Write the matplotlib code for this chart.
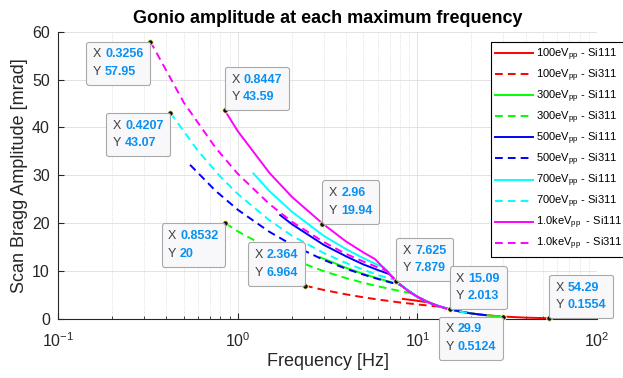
import matplotlib
matplotlib.use('Agg')
import matplotlib.pyplot as plt
from matplotlib.offsetbox import TextArea, HPacker, VPacker, AnnotationBbox

plt.rcParams['font.family'] = ['Liberation Sans', 'DejaVu Sans']
plt.rcParams['mathtext.fontset'] = 'custom'
plt.rcParams['mathtext.rm'] = 'Liberation Sans'
plt.rcParams['mathtext.default'] = 'regular'

# --- data (frequency in Hz, amplitude in mrad) ---
f_100_111 = [8.3, 10.0, 11.5, 14, 17, 22, 29.9, 40, 54.29]
a_100_111 = [4.2, 3.8, 3.46, 2.34, 1.585, 0.946, 0.5124, 0.286, 0.1554]
f_100_311 = [2.364, 3.0, 4.0, 5.0, 6.0, 8.0, 10.0, 12.0, 13.4]
a_100_311 = [6.964, 6.07, 5.15, 4.53, 4.08, 3.45, 3.04, 2.74, 2.55]

f_300_111 = [2.87, 4.0, 5.0, 6.0, 7.0, 7.95, 10, 13, 17, 22, 26, 29.9]
a_300_111 = [12.9, 10.7, 9.42, 8.5, 7.79, 7.25, 4.58, 2.71, 1.585, 0.946, 0.678, 0.5124]
f_300_311 = [0.8532, 1.0, 1.5, 2.0, 3.0, 4.0, 5.0, 6.0, 7.5, 9.2, 11, 13]
a_300_311 = [20.0, 18.3, 14.7, 12.5, 10.0, 8.55, 7.56, 6.84, 6.05, 5.41, 3.79, 2.71]

f_500_111 = [1.72, 2.0, 3.0, 4.0, 5.0, 6.0, 7.0, 8, 10, 12, 15, 19.5, 24]
a_500_111 = [21.7, 19.8, 15.5, 13.1, 11.4, 10.25, 9.35, 7.16, 4.58, 3.18, 2.04, 1.2, 0.795]
f_500_311 = [0.5417, 0.75, 1.0, 1.5, 2.0, 3.0, 4.0, 5.0, 6.0, 7.0, 8.0, 10, 12]
a_500_311 = [32.2, 26.8, 22.8, 18.2, 15.5, 12.35, 10.5, 9.27, 8.38, 7.68, 7.16, 4.58, 3.18]

f_700_111 = [1.22, 1.5, 2.0, 3.0, 4.0, 5.0, 6.0, 6.5, 8, 10, 12, 15]
a_700_111 = [30.4, 26.7, 22.4, 17.4, 14.6, 12.7, 11.3, 10.8, 7.16, 4.58, 3.18, 2.04]
f_700_311 = [0.4207, 0.6, 0.8, 1.0, 1.5, 2.0, 3.0, 4.0, 5.0, 6.0, 7.5, 9, 11, 13, 15, 17, 19.5]
a_700_311 = [43.07, 35.1, 29.7, 26.1, 20.6, 17.4, 13.8, 11.7, 10.3, 9.2, 8.14, 5.65, 3.79, 2.71, 2.04, 1.585, 1.204]

f_1k_111 = [0.8447, 1.0, 1.5, 2.0, 2.96, 4.0, 5.0, 5.81, 7.625, 9, 11, 13, 15.09]
a_1k_111 = [43.59, 39.2, 30.5, 25.5, 19.94, 16.2, 13.9, 12.5, 7.879, 5.65, 3.79, 2.71, 2.013]
f_1k_311 = [0.3256, 0.5, 0.75, 1.0, 1.5, 2.0, 3.0, 4.0, 5.0, 6.0, 6.74, 7.625]
a_1k_311 = [57.95, 45.2, 35.8, 30.3, 24.0, 20.3, 16.1, 13.6, 12.0, 10.8, 10.1, 7.879]

labels = ['100eV$_{pp}$ - Si111', '100eV$_{pp}$ - Si311',
          '300eV$_{pp}$ - Si111', '300eV$_{pp}$ - Si311',
          '500eV$_{pp}$ - Si111', '500eV$_{pp}$ - Si311',
          '700eV$_{pp}$ - Si111', '700eV$_{pp}$ - Si311',
          '1.0keV$_{pp}$  - Si111', '1.0keV$_{pp}$  - Si311']

# data tips
tip_x = [0.3256, 0.4207, 0.8447, 0.8532, 2.96, 2.364, 7.625, 15.09, 29.9, 54.29]
tip_y = [57.95, 43.07, 43.59, 20, 19.94, 6.964, 7.879, 2.013, 0.5124, 0.1554]
tip_corner = [(1, 1), (1, 1), (0, 0), (1, 1), (0, 0), (1, 0), (0, 0), (0, 0), (1, 1), (0, 0)]

series = [(f_100_111, a_100_111), (f_100_311, a_100_311),
          (f_300_111, a_300_111), (f_300_311, a_300_311),
          (f_500_111, a_500_111), (f_500_311, a_500_311),
          (f_700_111, a_700_111), (f_700_311, a_700_311),
          (f_1k_111, a_1k_111), (f_1k_311, a_1k_311)]
colors = ['#FF0000', '#FF0000', '#00FF00', '#00FF00', '#0000FF', '#0000FF',
          '#00FFFF', '#00FFFF', '#FF00FF', '#FF00FF']

fig = plt.figure(figsize=(6.23, 3.78), dpi=100)
ax = fig.add_axes([58.3 / 623, 59 / 378, 538.7 / 623, 287.3 / 378])

for i, (f, a) in enumerate(series):
    if i % 2 == 0:
        ax.plot(f, a, color=colors[i], lw=1.4, label=labels[i])
    else:
        ax.plot(f, a, color=colors[i], lw=1.4, ls=(0, (4, 2.6)), label=labels[i])

ax.set_xscale('log')
ax.set_xlim(0.1, 100)
ax.set_ylim(0, 60)
ax.set_yticks(range(0, 61, 10))
ax.grid(True, which='major', color='#DEDEDE', lw=0.6)
ax.grid(True, which='minor', axis='x', color='#D6D6D6', ls=':', lw=0.6)
ax.set_axisbelow(True)
for s in ['top', 'right']:
    ax.spines[s].set_visible(False)
for s in ['left', 'bottom']:
    ax.spines[s].set_color('#262626')
    ax.spines[s].set_linewidth(0.8)
ax.tick_params(which='both', direction='in', top=False, right=False,
               colors='#262626', labelsize=11.5)
ax.tick_params(which='major', length=4)
ax.tick_params(which='minor', length=2)
ax.tick_params(axis='x', which='both', pad=9)
ax.tick_params(axis='y', pad=6)

ax.set_xlabel('Frequency [Hz]', fontsize=13, color='#262626', labelpad=2)
ax.set_ylabel('Scan Bragg Amplitude [mrad]', fontsize=13, color='#262626', labelpad=3)
ax.set_title('Gonio amplitude at each maximum frequency', fontsize=13,
             fontweight='bold', pad=6)

leg = ax.legend(loc='upper left', bbox_to_anchor=(491 / 623, 1 - 42 / 378),
                bbox_transform=fig.transFigure, fontsize=8, handlelength=3.4,
                handletextpad=0.25, labelspacing=0.42, borderpad=0.4,
                borderaxespad=0, fancybox=False, edgecolor='k', framealpha=1)
leg.get_frame().set_linewidth(0.8)
leg.set_zorder(5)

# data tip markers and boxes
ax.plot(tip_x, tip_y, 'o', ms=4, mfc='#111111', mec='#FFFFA0', mew=0.7,
        zorder=6, clip_on=False)
fs = 9
pad = 0.55
for x, y, c in zip(tip_x, tip_y, tip_corner):
    l1 = HPacker(children=[TextArea('X ', textprops=dict(color='#404040', size=fs)),
                           TextArea(f'{x:.4g}', textprops=dict(color='#0A90F0', size=fs,
                                                               weight='bold'))],
                 pad=0, sep=0)
    l2 = HPacker(children=[TextArea('Y ', textprops=dict(color='#404040', size=fs)),
                           TextArea(f'{y:.4g}', textprops=dict(color='#0A90F0', size=fs,
                                                               weight='bold'))],
                 pad=0, sep=0)
    box = VPacker(children=[l1, l2], align='left', pad=0, sep=4)
    dx = pad * fs if c[0] == 0 else -pad * fs
    dy = pad * fs if c[1] == 0 else -pad * fs
    ab = AnnotationBbox(box, (x, y), xybox=(dx, dy), xycoords='data',
                        boxcoords='offset points', box_alignment=c,
                        fontsize=fs, pad=pad, annotation_clip=False,
                        bboxprops=dict(boxstyle=f'round,pad={pad},rounding_size=0.2',
                                       fc='#F8F8FB', ec='#A9A9A9', lw=0.8))
    ab.set_zorder(7)
    ab.set_clip_on(False)
    ax.add_artist(ab)

fig.savefig('out.png', dpi=100)
